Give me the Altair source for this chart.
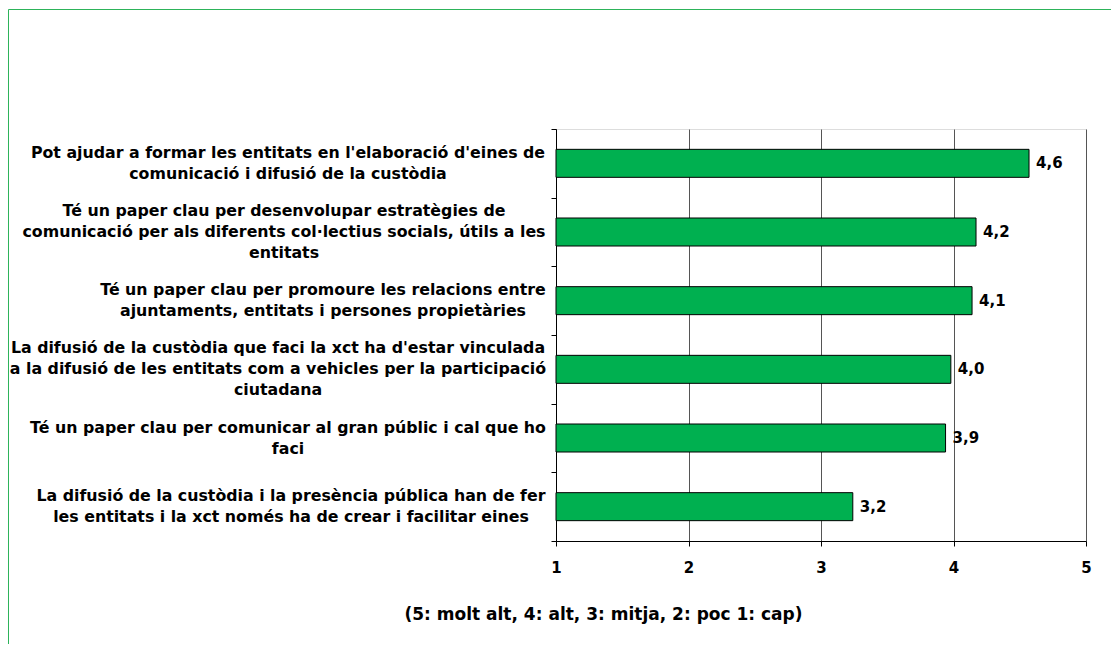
import altair as alt
import pandas as pd

# ---- data ----
labels = [
    "Pot ajudar a formar les entitats en l'elaboració d'eines de|comunicació i difusió de la custòdia",
    "Té un paper clau per desenvolupar estratègies de|comunicació per als diferents col·lectius socials, útils a les|entitats",
    "Té un paper clau per promoure les relacions entre|ajuntaments, entitats i persones propietàries",
    "La difusió de la custòdia que faci la xct ha d'estar vinculada|a la difusió de les entitats com a vehicles per la participació|ciutadana",
    "Té un paper clau per comunicar al gran públic i cal que ho|faci",
    "La difusió de la custòdia i la presència pública han de fer|les entitats i la xct només ha de crear i facilitar eines",
]
values = [4.57, 4.17, 4.14, 3.98, 3.94, 3.24]
x_ticks = [1, 2, 3, 4, 5]
note = "(5: molt alt, 4: alt, 3: mitja, 2: poc 1: cap)"

# ---- styling ----
FONT = "DejaVu Sans"
GREEN = "#00B050"
FRAME = "#2DB35A"
LABEL_SIZE = 15.8
LINE_H = 21
PLOT_W = 530
PX_PER_UNIT = PLOT_W / 4.0
GAP = 11  # px between label block and the y axis
# label prefixes -> half width of the widest line (px), used to centre each block
label_keys = ["Pot ajudar", "Té un paper clau per desenvolupar", "Té un paper clau per promoure",
              "La difusió de la custòdia que", "Té un paper clau per comunicar", "La difusió de la custòdia i"]
half_widths = [257, 261, 222, 267, 257, 254]

half_expr = "".join(
    f"indexof(datum.label, '{k}') === 0 ? {h} : " for k, h in zip(label_keys, half_widths)
) + "0"
lx_expr = f"1 - ({GAP} + ({half_expr})) / {PX_PER_UNIT}"

df = pd.DataFrame({"label": labels, "value": values})

x_scale = alt.Scale(domain=[1, 5], nice=False, zero=False)

y_enc = alt.Y(
    "label:N",
    sort=None,
    scale=alt.Scale(paddingInner=0, paddingOuter=0),
    axis=alt.Axis(
        title=None,
        labels=False,
        tickBand="extent",
        tickSize=5,
        tickColor="black",
        domainColor="black",
        grid=False,
    ),
)

x_enc = alt.X(
    "value:Q",
    scale=x_scale,
    axis=alt.Axis(
        values=x_ticks,
        format="d",
        grid=True,
        gridColor="#555555",
        domainColor="black",
        tickColor="black",
        tickSize=5,
        labelFlush=False,
        labelFont=FONT,
        labelFontSize=15,
        labelFontWeight="bold",
        labelColor="black",
        labelBaseline="middle",
        labelPadding=21,
        title=note,
        titleFont=FONT,
        titleFontSize=17,
        titleFontWeight="bold",
        titleColor="black",
        titleX=47,
        titleY=73,
        titleAlign="center",
        titleBaseline="middle",
    ),
)

bars = alt.Chart(df).mark_bar(size=28, color=GREEN, stroke="black", strokeWidth=1).encode(
    y=y_enc,
    x=x_enc,
    x2=alt.datum(1),
)

texts = alt.Chart(df).transform_calculate(
    lbl="replace(format(datum.value, '.1f'), '.', ',')"
).mark_text(align="left", baseline="middle", dx=7, font=FONT, fontSize=15,
            fontWeight="bold", color="black").encode(
    y=alt.Y("label:N", sort=None),
    x=alt.X("value:Q", scale=x_scale),
    text="lbl:N",
)


def label_layer(n_lines):
    return alt.Chart(df).transform_calculate(
        nl="length(split(datum.label, '|'))",
        lx=lx_expr,
    ).transform_filter(
        f"datum.nl === {n_lines}"
    ).mark_text(
        align="center", baseline="middle", lineBreak="|", lineHeight=LINE_H,
        dy=-(n_lines - 1) * LINE_H / 2, font=FONT, fontSize=LABEL_SIZE,
        fontWeight="bold", color="black",
    ).encode(
        y=alt.Y("label:N", sort=None),
        x=alt.X("lx:Q", scale=x_scale),
        text="label:N",
    )


frame_src = pd.DataFrame({"k": [0]})
frame_left = alt.Chart(frame_src).mark_rule(color=FRAME, strokeWidth=1).encode(
    x=alt.value(-547.5), y=alt.value(-119.5), y2=alt.value(600)
)
frame_top = alt.Chart(frame_src).mark_rule(color=FRAME, strokeWidth=1).encode(
    x=alt.value(-547.5), x2=alt.value(700), y=alt.value(-119.5)
)

chart = alt.layer(frame_left, frame_top, bars, texts, label_layer(2), label_layer(3)).properties(
    width=PLOT_W,
    height=412,
    autosize=alt.AutoSizeParams(type="none"),
    padding={"left": 548, "top": 121, "right": 25, "bottom": 103},
).configure_view(stroke="#888888", strokeWidth=1).configure(background="white")

chart.save("out.html", embed_options={"renderer": "svg", "actions": False})
